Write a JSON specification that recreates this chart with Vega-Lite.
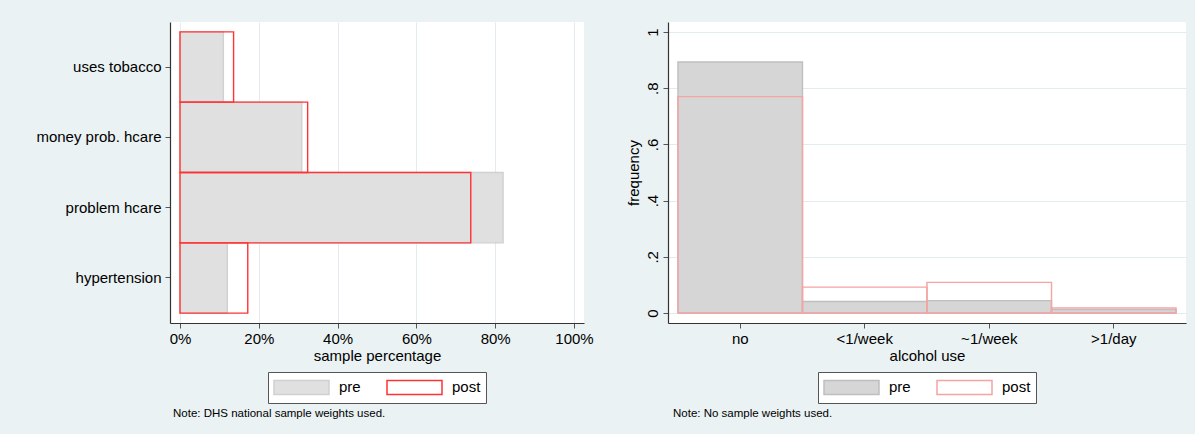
{
  "$schema": "https://vega.github.io/schema/vega-lite/v6.json",
  "background": "#eaf2f3",
  "padding": {"left": 35, "top": 22, "right": 10, "bottom": 16},
  "spacing": 31,
  "config": {
    "font": "Liberation Sans",
    "view": {"stroke": null, "fill": "white"},
    "axis": {
      "domainColor": "#333333",
      "domainWidth": 1.2,
      "tickColor": "#555555",
      "tickSize": 5,
      "labelFontSize": 15,
      "titleFontSize": 15,
      "labelColor": "#000000",
      "titleColor": "#000000",
      "titleFontWeight": "normal",
      "gridColor": "#e2ebed",
      "labelPadding": 3,
      "titlePadding": 2
    },
    "legend": {
      "labelFontSize": 15,
      "labelColor": "#000000",
      "layout": {"bottom": {"anchor": "middle"}}
    },
    "title": {"fontSize": 11.5, "fontWeight": "normal", "color": "#000000"}
  },
  "hconcat": [
    {
      "width": 414,
      "height": 301,
      "title": {"text": "Note: DHS national sample weights used.", "orient": "bottom", "anchor": "start", "frame": "group", "offset": 4, "dx": 3},
      "data": {"values": [
        {"item": "uses tobacco", "group": "pre", "pct": 11.0},
        {"item": "money prob. hcare", "group": "pre", "pct": 30.9},
        {"item": "problem hcare", "group": "pre", "pct": 82.0},
        {"item": "hypertension", "group": "pre", "pct": 12.0},
        {"item": "uses tobacco", "group": "post", "pct": 13.6},
        {"item": "money prob. hcare", "group": "post", "pct": 32.4},
        {"item": "problem hcare", "group": "post", "pct": 73.8},
        {"item": "hypertension", "group": "post", "pct": 17.2}
      ]},
      "mark": {"type": "bar", "strokeWidth": 1.4},
      "encoding": {
        "y": {"field": "item", "type": "nominal",
              "sort": ["uses tobacco", "money prob. hcare", "problem hcare", "hypertension"],
              "scale": {"paddingInner": 0, "paddingOuter": 0.14},
              "axis": {"title": null, "grid": false, "labelPadding": 4}},
        "x": {"field": "pct", "type": "quantitative", "stack": null,
              "scale": {"domain": [-2.54, 102.54], "nice": false, "zero": false},
              "axis": {"values": [0, 20, 40, 60, 80, 100], "labelExpr": "datum.value + '%'", "title": "sample percentage", "grid": true}},
        "fill": {"field": "group", "type": "nominal",
                 "scale": {"domain": ["pre", "post"], "range": ["#e0e0e0", "transparent"]},
                 "legend": {"title": null, "orient": "bottom", "direction": "horizontal", "fillColor": "white", "strokeColor": "#555555", "padding": 5, "symbolType": "M-1,-0.78H5.11V0.78H-1Z", "symbolSize": 324, "symbolStrokeWidth": 1.5, "columnPadding": 23, "labelOffset": 46, "offset": 9}},
        "stroke": {"field": "group", "type": "nominal",
                   "scale": {"domain": ["pre", "post"], "range": ["#d0d0d0", "#ff3333"]},
                   "legend": {"title": null, "orient": "bottom", "direction": "horizontal", "fillColor": "white", "strokeColor": "#555555", "padding": 5, "symbolType": "M-1,-0.78H5.11V0.78H-1Z", "symbolSize": 324, "symbolStrokeWidth": 1.5, "columnPadding": 23, "labelOffset": 46, "offset": 9}}
      }
    },
    {
      "width": 518,
      "height": 301,
      "title": {"text": "Note: No sample weights used.", "orient": "bottom", "anchor": "start", "frame": "group", "offset": 4, "dx": 5},
      "data": {"values": [
        {"alc": "no", "group": "pre", "freq": 0.893},
        {"alc": "<1/week", "group": "pre", "freq": 0.041},
        {"alc": "~1/week", "group": "pre", "freq": 0.044},
        {"alc": ">1/day", "group": "pre", "freq": 0.012},
        {"alc": "no", "group": "post", "freq": 0.770},
        {"alc": "<1/week", "group": "post", "freq": 0.092},
        {"alc": "~1/week", "group": "post", "freq": 0.109},
        {"alc": ">1/day", "group": "post", "freq": 0.018}
      ]},
      "mark": {"type": "bar", "strokeWidth": 1.4},
      "encoding": {
        "x": {"field": "alc", "type": "nominal",
              "sort": ["no", "<1/week", "~1/week", ">1/day"],
              "scale": {"paddingInner": 0, "paddingOuter": 0.08},
              "axis": {"title": "alcohol use", "labelAngle": 0, "grid": false}},
        "y": {"field": "freq", "type": "quantitative", "stack": null,
              "scale": {"domain": [-0.0356, 1.0356], "nice": false, "zero": false},
              "axis": {"values": [0, 0.2, 0.4, 0.6, 0.8, 1], "labelExpr": "datum.value == 0 ? '0' : datum.value == 1 ? '1' : replace(format(datum.value, '.1f'), '0.', '.')", "labelAngle": -90, "labelAlign": "center", "labelBaseline": "bottom", "title": "frequency", "grid": true, "titlePadding": 4}},
        "fill": {"field": "group", "type": "nominal",
                 "scale": {"domain": ["pre", "post"], "range": ["#d6d6d6", "transparent"]},
                 "legend": {"title": null, "orient": "bottom", "direction": "horizontal", "fillColor": "white", "strokeColor": "#555555", "padding": 5, "symbolType": "M-1,-0.78H5.11V0.78H-1Z", "symbolSize": 324, "symbolStrokeWidth": 1.5, "columnPadding": 23, "labelOffset": 46, "offset": 9}},
        "stroke": {"field": "group", "type": "nominal",
                   "scale": {"domain": ["pre", "post"], "range": ["#bfbfbf", "#f5a3a3"]},
                   "legend": {"title": null, "orient": "bottom", "direction": "horizontal", "fillColor": "white", "strokeColor": "#555555", "padding": 5, "symbolType": "M-1,-0.78H5.11V0.78H-1Z", "symbolSize": 324, "symbolStrokeWidth": 1.5, "columnPadding": 23, "labelOffset": 46, "offset": 9}}
      }
    }
  ],
  "resolve": {"scale": {"fill": "independent", "stroke": "independent"}, "legend": {"fill": "independent", "stroke": "independent"}}
}
